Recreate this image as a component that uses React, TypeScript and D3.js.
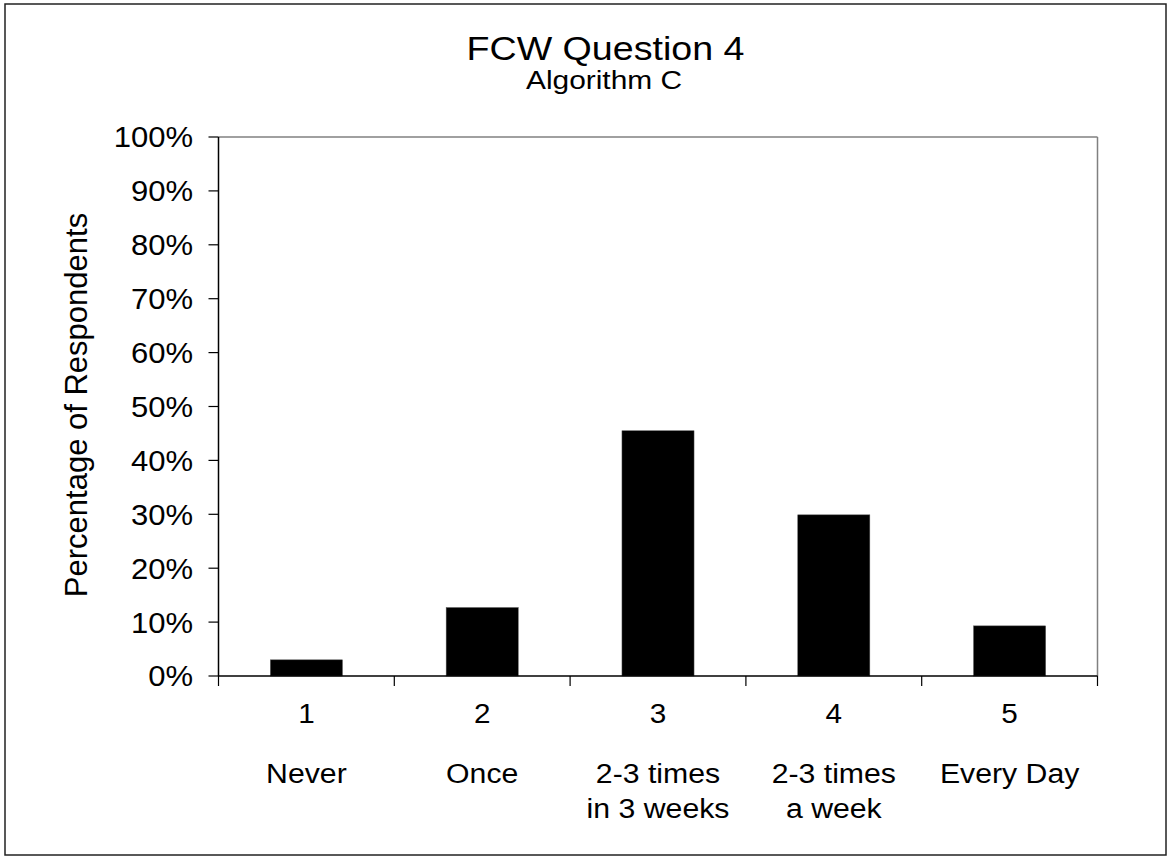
import React from "react";
import * as d3 from "d3";

const categoryNumbers = ["1", "2", "3", "4", "5"];
const categoryLabels: string[][] = [
  ["Never"],
  ["Once"],
  ["2-3 times", "in 3 weeks"],
  ["2-3 times", "a week"],
  ["Every Day"],
];
const values = [3.0, 12.7, 45.5, 29.9, 9.3];
const yTicks = [0, 10, 20, 30, 40, 50, 60, 70, 80, 90, 100];

const W = 1171;
const H = 858;
const FONT = "'Liberation Sans', Arial, sans-serif";

function SText(props: {
  x: number;
  y: number;
  size: number;
  sx?: number;
  anchor?: string;
  dy?: string;
  children: React.ReactNode;
}) {
  const { x, y, size, sx = 1, anchor = "middle", dy, children } = props;
  return (
    <text
      transform={`translate(${x},${y}) scale(${sx},1)`}
      textAnchor={anchor}
      fontSize={size}
      dy={dy}
      fill="#000"
    >
      {children}
    </text>
  );
}

export default function App() {
  const left = 218.5;
  const right = 1097.5;
  const top = 137;
  const bottom = 676;

  const x = d3
    .scaleBand<string>()
    .domain(categoryNumbers)
    .range([left, right])
    .paddingInner(0.59)
    .paddingOuter(0.295);
  const xb = d3.scaleBand<string>().domain(categoryNumbers).range([left, right]);
  const y = d3.scaleLinear().domain([0, 100]).range([bottom, top]);
  const boundaries = [...categoryNumbers.map((c) => xb(c)!), right];

  return (
    <div style={{ position: "absolute", left: 0, top: 0 }}>
      <svg width={W} height={H} style={{ display: "block", background: "#fff" }} fontFamily={FONT}>
        <rect x={5} y={4} width={1161} height={851} fill="#fff" stroke="#222" strokeWidth={1.5} />
        <SText x={605.5} y={60} size={33} sx={1.14}>
          FCW Question 4
        </SText>
        <SText x={604} y={89} size={26} sx={1.15}>
          Algorithm C
        </SText>
        {/* plot border top & right in gray */}
        <line x1={left} x2={right} y1={top} y2={top} stroke="#808080" strokeWidth={1.5} />
        <line x1={right} x2={right} y1={top} y2={bottom} stroke="#808080" strokeWidth={1.5} />
        {/* bars */}
        {values.map((v, i) => (
          <rect
            key={i}
            x={x(categoryNumbers[i])}
            width={x.bandwidth()}
            y={y(v)}
            height={bottom - y(v)}
            fill="#000"
            stroke="#555"
            strokeWidth={0.5}
          />
        ))}
        {/* y axis */}
        <line x1={left} x2={left} y1={top} y2={bottom} stroke="#000" strokeWidth={1.5} />
        {yTicks.map((t) => (
          <g key={t}>
            <line x1={left - 10} x2={left} y1={y(t)} y2={y(t)} stroke="#000" strokeWidth={1.2} />
            <SText x={193} y={y(t)} size={29} sx={1.07} anchor="end" dy="0.36em">
              {t}%
            </SText>
          </g>
        ))}
        {/* x axis */}
        <line x1={left} x2={right} y1={bottom} y2={bottom} stroke="#000" strokeWidth={1.5} />
        {boundaries.map((b, i) => (
          <line key={i} x1={b} x2={b} y1={bottom} y2={bottom + 10} stroke="#000" strokeWidth={1.2} />
        ))}
        {categoryNumbers.map((c, i) => {
          const cx = xb(c)! + xb.bandwidth() / 2;
          return (
            <g key={c}>
              <SText x={cx} y={723} size={27} sx={1.1}>
                {c}
              </SText>
              {categoryLabels[i].map((l, j) => (
                <SText key={j} x={cx} y={783 + j * 35} size={27} sx={1.12}>
                  {l}
                </SText>
              ))}
            </g>
          );
        })}
        <text
          transform={`translate(87, 405) rotate(-90)`}
          textAnchor="middle"
          fontSize={31}
          fill="#000"
        >
          {"Percentage of  Respondents"}
        </text>
      </svg>
    </div>
  );
}
